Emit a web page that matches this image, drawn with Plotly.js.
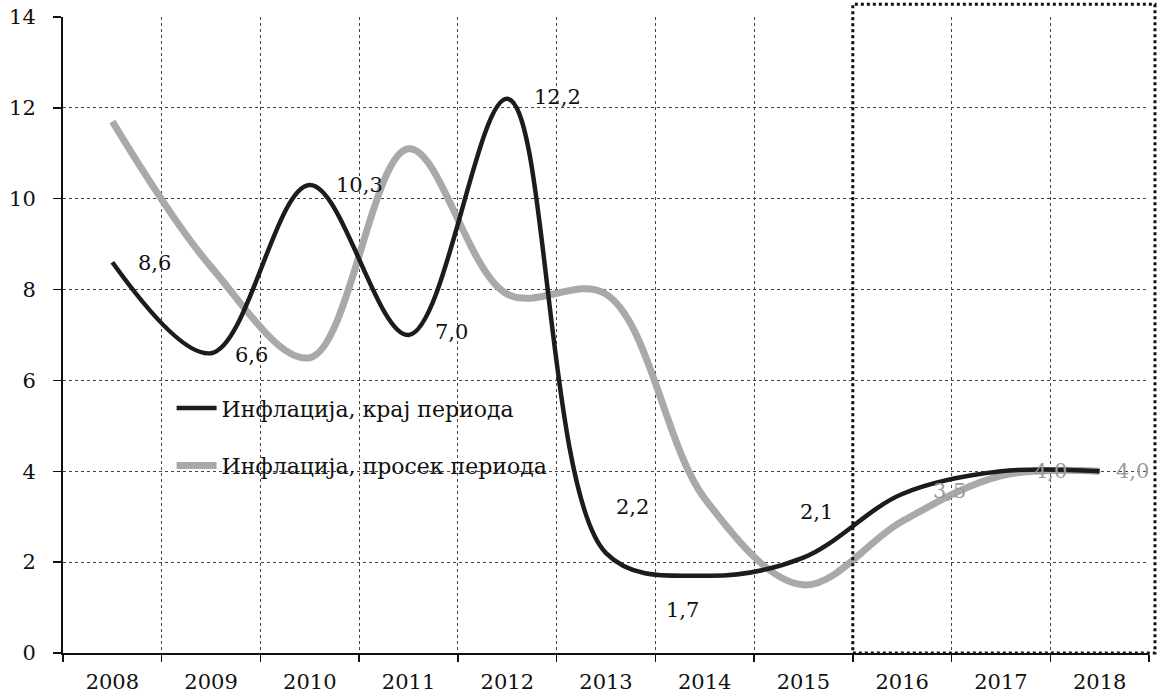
<!DOCTYPE html>
<html>
<head>
<meta charset="utf-8">
<script src="https://cdn.plot.ly/plotly-3.0.1.min.js"></script>
<style>html,body{margin:0;padding:0;background:#fff;}#chart{width:1160px;height:696px;}</style>
</head>
<body>
<div id="chart"></div>
<script>
// ---- data ----
const years = ['2008','2009','2010','2011','2012','2013','2014','2015','2016','2017','2018'];
const endOfPeriod = [8.6, 6.6, 10.3, 7.0, 12.2, 2.2, 1.7, 2.1, 3.5, 4.0, 4.0];
const averagePeriod = [11.7, 8.5, 6.5, 11.1, 7.9, 7.9, 3.4, 1.5, 2.9, 3.9, 4.0];
const seriesNames = ['Инфлација, крај периода', 'Инфлација, просек периода'];

// label placement (pixel offsets from each point), style only
const labelDX = [24, 22, 24, 24, 25, 8, -41, -5, 29, 31, 14];
const labelDY = [-1, -2, 0, 3, 2, 46, -34, 46, 3, 0, 0];
const labelColor = ['#111','#111','#111','#111','#111','#111','#111','#111','#9a9a9a','#9a9a9a','#9a9a9a'];

const fmt = v => v.toFixed(1).replace('.', ',');
const serif = 'DejaVu Serif, Liberation Serif, serif';

const traces = [
  {
    x: years, y: averagePeriod, name: seriesNames[1], type: 'scatter', mode: 'lines',
    line: {color: '#a9a9a9', width: 7, shape: 'spline', smoothing: 1},
    legendgroup: 'b', legendrank: 2, hoverinfo: 'x+y'
  },
  {
    x: years, y: endOfPeriod, name: seriesNames[0], type: 'scatter', mode: 'lines',
    line: {color: '#1c1c1c', width: 4.5, shape: 'spline', smoothing: 1},
    legendgroup: 'a', legendrank: 1, hoverinfo: 'x+y'
  }
];

// category axis: annotation x given as the category's serial index
const annotations = endOfPeriod.map((v, i) => ({
  x: i, y: v, xref: 'x', yref: 'y', text: fmt(v), showarrow: false,
  xanchor: 'left', yanchor: 'middle', xshift: labelDX[i], yshift: labelDY[i],
  font: {family: serif, size: 21, color: labelColor[i]}
}));

const layout = {
  width: 1160, height: 696,
  margin: {l: 63, r: 11, t: 17, b: 43},
  paper_bgcolor: '#fff', plot_bgcolor: '#fff',
  showlegend: true,
  legend: {
    x: 0.1, y: 0.418, xanchor: 'left', yanchor: 'top',
    bgcolor: 'rgba(0,0,0,0)', borderwidth: 0,
    font: {family: serif, size: 22, color: '#111'},
    traceorder: 'grouped', tracegroupgap: 26, itemwidth: 40
  },
  xaxis: {
    type: 'category', tickson: 'boundaries', range: [-0.5, 10.5],
    showgrid: true, gridcolor: '#444', griddash: 'dot', gridwidth: 1,
    showline: true, linecolor: '#111', linewidth: 2,
    ticks: 'outside', ticklen: 7, tickcolor: '#111', tickwidth: 1.5,
    ticklabelstandoff: 9,
    tickfont: {family: serif, size: 21, color: '#111'},
    zeroline: false, fixedrange: true
  },
  yaxis: {
    range: [0, 14], dtick: 2, tick0: 0,
    showgrid: true, gridcolor: '#444', griddash: 'dot', gridwidth: 1,
    showline: true, linecolor: '#111', linewidth: 2,
    ticks: 'outside', ticklen: 8, tickcolor: '#111', tickwidth: 1.5,
    ticklabelstandoff: 13,
    tickfont: {family: serif, size: 21, color: '#111'},
    zeroline: false, fixedrange: true
  },
  shapes: [{
    type: 'rect', xref: 'paper', yref: 'paper', x0: 8/11, x1: 1.0055, y0: 0, y1: 1.02,
    line: {color: '#111', width: 3, dash: 'dot'}, fillcolor: 'rgba(0,0,0,0)', layer: 'above'
  }],
  annotations: annotations
};

Plotly.newPlot('chart', traces, layout, {displayModeBar: false, staticPlot: true});
</script>
</body>
</html>
